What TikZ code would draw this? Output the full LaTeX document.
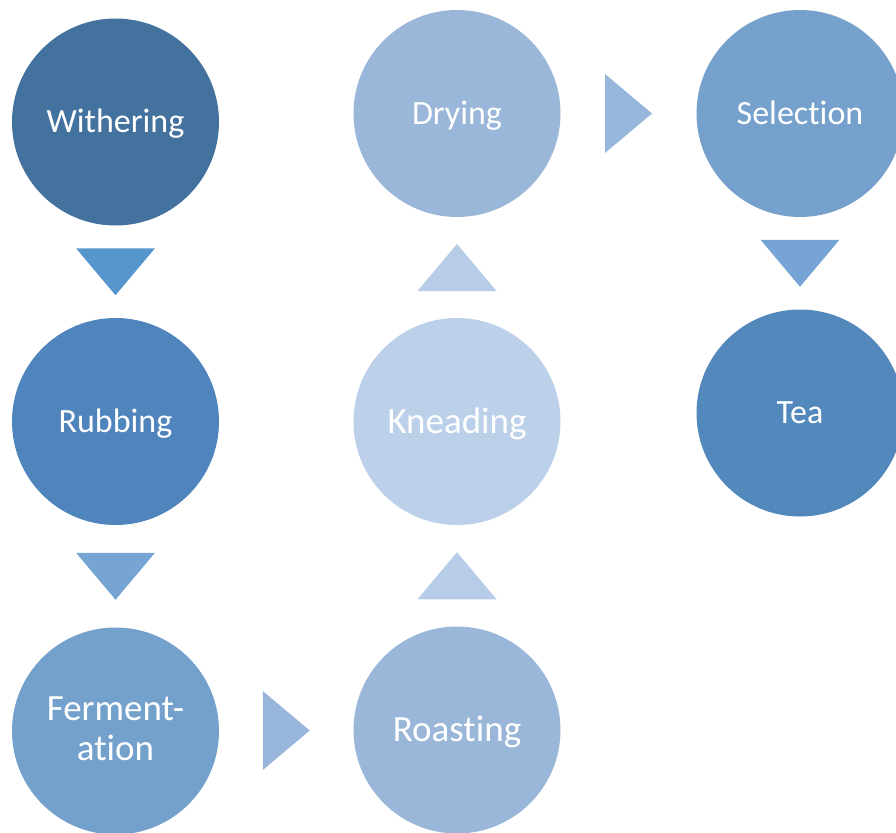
\documentclass[tikz,border=0pt]{standalone}
\usepackage{fontspec}
\setmainfont{Carlito}[Ligatures=NoCommon]
\usetikzlibrary{calc}
\definecolor{cWith}{HTML}{42729D}
\definecolor{cRub}{HTML}{4F84BD}
\definecolor{cFer}{HTML}{74A0CC}
\definecolor{cRoa}{HTML}{9AB7DA}
\definecolor{cKne}{HTML}{BCD0E9}
\definecolor{cDry}{HTML}{9AB7DA}
\definecolor{cSel}{HTML}{76A1CC}
\definecolor{cTea}{HTML}{5288BC}
\definecolor{tA}{HTML}{5796CC}
\definecolor{tB}{HTML}{76A5D4}
\definecolor{tC}{HTML}{98B6DC}
\definecolor{tD}{HTML}{B7CCE6}
\definecolor{tE}{HTML}{97B6DC}
\definecolor{tF}{HTML}{76A4D4}
\newcommand\mytridown[2]{\fill[#2] ($(#1)+(-39.5,-23.5)$) -- ($(#1)+(39.5,-23.5)$) -- ($(#1)+(0,23.5)$) -- cycle;}
\newcommand\mytriup[2]{\fill[#2] ($(#1)+(-39.5,23.5)$) -- ($(#1)+(39.5,23.5)$) -- ($(#1)+(0,-23.5)$) -- cycle;}
\newcommand\mytriright[2]{\fill[#2] ($(#1)+(-23.5,-39.5)$) -- ($(#1)+(-23.5,39.5)$) -- ($(#1)+(23.5,0)$) -- cycle;}
\begin{document}
\begin{tikzpicture}[x=1pt,y=-1pt,
  stage/.style={circle, minimum size=207pt, inner sep=0pt, text=white,
    font=\fontsize{34}{40}\selectfont, text height=21.9pt, text depth=0pt},
  bigtext/.style={font=\fontsize{37}{44}\selectfont, text height=23.8pt},
  lbl/.style={text=white, font=\fontsize{37}{44}\selectfont, inner sep=0pt, anchor=base}]
\useasboundingbox (0,0) rectangle (896,832);
\node[stage, fill=cWith] (w) at (115.5,122) {Withering};
\node[stage, fill=cRub] (r) at (115.5,421.5) {Rubbing};
\node[stage, fill=cFer] (f) at (115.5,731) {};
\node[lbl] (f1) at ([yshift=11pt]f.center) {Ferment-};
\node[lbl] (f2) at ([yshift=-29.5pt]f.center) {ation};
\node[stage, bigtext, fill=cRoa] (ro) at (457,730) {Roasting};
\node[stage, bigtext, fill=cKne] (k) at (457,421.5) {Kneading};
\node[stage, fill=cDry] (d) at (457,113.5) {Drying};
\node[stage, fill=cSel] (s) at (800,113.5) {Selection};
\node[stage, fill=cTea] (t) at (800,413) {Tea};
\coordinate (a1) at ($(w.south)!.5!(r.north)$);
\coordinate (a2) at ($(r.south)!.5!(f.north)$);
\coordinate (a3) at ($(f.east)!.5!(ro.west)$);
\coordinate (a4) at ($(ro.north)!.5!(k.south)$);
\coordinate (a5) at ($(k.north)!.5!(d.south)$);
\coordinate (a6) at ($(d.east)!.5!(s.west)$);
\coordinate (a7) at ($(s.south)!.5!(t.north)$);
\mytridown{a1}{tA}
\mytridown{a2}{tB}
\mytriright{a3}{tC}
\mytriup{a4}{tD}
\mytriup{a5}{tD}
\mytriright{a6}{tE}
\mytridown{a7}{tF}
\end{tikzpicture}
\end{document}
